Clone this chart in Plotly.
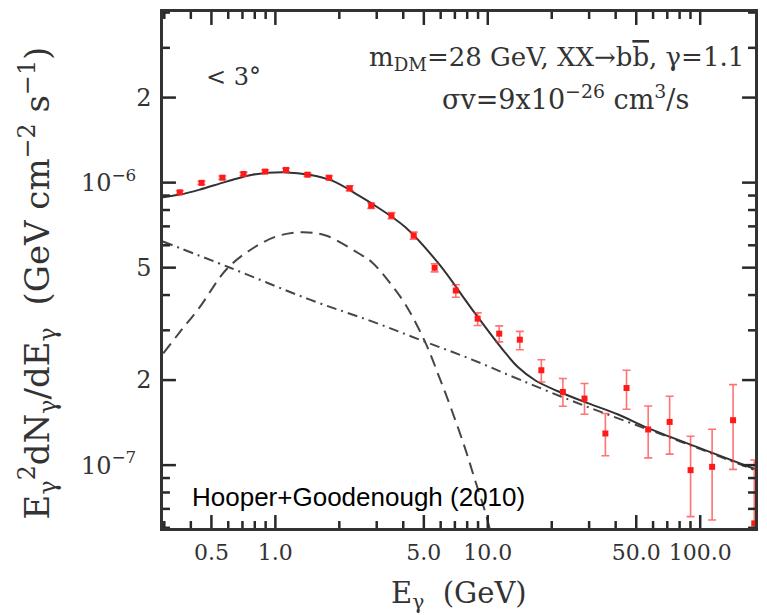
import plotly.graph_objects as go

# ---------------- data ----------------
E_data = [0.355, 0.449, 0.563, 0.708, 0.895, 1.122, 1.417, 1.790, 2.239, 2.826,
          3.52, 4.48, 5.62, 7.07, 8.96, 11.32, 14.15, 17.87, 22.57, 28.53,
          35.78, 45.0, 56.9, 71.8, 90.1, 113.8, 142.8, 179.7]
F_data = [9.24e-7, 9.98e-7, 1.041e-6, 1.073e-6, 1.094e-6, 1.109e-6, 1.067e-6, 1.041e-6, 9.55e-7, 8.29e-7,
          7.64e-7, 6.50e-7, 4.996e-7, 4.15e-7, 3.30e-7, 2.92e-7, 2.78e-7, 2.167e-7, 1.816e-7, 1.72e-7,
          1.294e-7, 1.875e-7, 1.337e-7, 1.422e-7, 9.60e-8, 9.86e-8, 1.442e-7, 6.22e-8]
F_hi = [9.36e-7, 1.011e-6, 1.055e-6, 1.087e-6, 1.109e-6, 1.124e-6, 1.082e-6, 1.056e-6, 9.75e-7, 8.47e-7,
        7.83e-7, 6.69e-7, 5.16e-7, 4.35e-7, 3.46e-7, 3.11e-7, 2.975e-7, 2.36e-7, 2.025e-7, 1.944e-7,
        1.523e-7, 2.167e-7, 1.62e-7, 1.753e-7, 1.266e-7, 1.34e-7, 1.928e-7, 1.042e-7]
F_lo = [9.12e-7, 9.85e-7, 1.027e-6, 1.059e-6, 1.079e-6, 1.094e-6, 1.052e-6, 1.026e-6, 9.35e-7, 8.11e-7,
        7.45e-7, 6.31e-7, 4.83e-7, 3.93e-7, 3.12e-7, 2.73e-7, 2.56e-7, 1.97e-7, 1.616e-7, 1.514e-7,
        1.079e-7, 1.577e-7, 1.061e-7, 1.094e-7, 6.57e-8, 6.39e-8, 9.66e-8, 3.0e-8]

# total model (solid)
E_total = [0.2956, 0.355, 0.4406, 0.5875, 0.7803, 1.126, 1.443, 1.849, 2.474, 2.847, 4.095,
           5.864, 8.37, 12.04, 13.9, 16.69, 21.39, 28.53, 40.85, 56.47, 100.3, 180.9]
F_total = [8.87e-7, 9.07e-7, 9.447e-7, 1.008e-6, 1.067e-6, 1.087e-6, 1.067e-6, 1.016e-6, 9.0e-7, 8.43e-7, 6.95e-7,
           5.173e-7, 3.587e-7, 2.507e-7, 2.219e-7, 1.997e-7, 1.826e-7, 1.674e-7, 1.514e-7, 1.354e-7, 1.146e-7, 9.68e-8]

# dark matter component (dashed)
E_dm = [0.2966, 0.355, 0.4406, 0.5875, 0.7555, 1.008, 1.338, 1.728, 2.474, 2.847, 3.42, 4.095,
        5.079, 5.864, 6.767, 7.82, 8.71, 9.87, 10.5]
F_dm = [2.487e-7, 2.958e-7, 3.625e-7, 4.927e-7, 5.75e-7, 6.444e-7, 6.674e-7, 6.497e-7, 5.611e-7, 5.229e-7, 4.468e-7, 3.706e-7,
        2.72e-7, 2.08e-7, 1.564e-7, 1.146e-7, 8.85e-8, 6.57e-8, 5.43e-8]

# background (dash-dot)
E_bg = [0.2956, 0.6088, 1.443, 2.847, 4.882, 8.370, 14.35, 28.53, 56.47, 100.3, 180.9]
F_bg = [6.187e-7, 5.006e-7, 3.86e-7, 3.227e-7, 2.764e-7, 2.369e-7, 1.997e-7, 1.622e-7, 1.340e-7, 1.139e-7, 9.60e-8]

x_major = [0.5, 1.0, 5.0, 10.0, 50.0, 100.0]
x_major_text = ["0.5", "1.0", "5.0", "10.0", "50.0", "100.0"]
x_minor = [0.3, 0.4, 0.6, 0.7, 0.8, 0.9, 2, 3, 4, 6, 7, 8, 9, 20, 30, 40, 60, 70, 80, 90]
y_major = [1e-7, 2e-7, 5e-7, 1e-6, 2e-6]
y_major_text = ["10<sup>\u22127</sup>\u00a0\u00a0", "2", "5", "10<sup>\u22126</sup>\u00a0\u00a0", "2"]
y_minor = [6e-8, 7e-8, 8e-8, 9e-8, 3e-7, 4e-7, 6e-7, 7e-7, 8e-7, 9e-7, 3e-6, 4e-6]

# ---------------- figure ----------------
LINE = "rgb(50,50,50)"
TXT = "#333333"
SERIF = "DejaVu Serif"
X_RANGE = [-0.529, 2.258]
Y_RANGE = [-7.2226, -5.396]
W, H = 767, 615
M = dict(l=163, r=9, t=11, b=87)
PW = W - M["l"] - M["r"]
PH = H - M["t"] - M["b"]
MAJ_LEN, MIN_LEN = 13, 7

fig = go.Figure()

fig.add_trace(go.Scatter(x=E_bg, y=F_bg, mode="lines", line_shape="spline",
                         line=dict(color="rgb(70,70,70)", width=2, dash="10px,5px,2px,5px"),
                         showlegend=False, hoverinfo="skip"))
fig.add_trace(go.Scatter(x=E_dm, y=F_dm, mode="lines", line_shape="spline",
                         line=dict(color="rgb(70,70,70)", width=2, dash="12px,7px"),
                         showlegend=False, hoverinfo="skip"))
fig.add_trace(go.Scatter(x=E_total, y=F_total, mode="lines", line_shape="spline",
                         line=dict(color=LINE, width=2),
                         showlegend=False, hoverinfo="skip"))

err_plus = [h - f for h, f in zip(F_hi, F_data)]
err_minus = [f - l for f, l in zip(F_data, F_lo)]
fig.add_trace(go.Scatter(
    x=E_data, y=F_data, mode="markers",
    marker=dict(symbol="square", size=6, color="#ff1a1a"),
    error_y=dict(type="data", symmetric=False, array=err_plus, arrayminus=err_minus,
                 color="rgba(255,40,40,0.65)", thickness=1.6, width=4),
    showlegend=False))

# inside tick marks on all four sides, built from the tick value lists and the axis ranges
dx = X_RANGE[1] - X_RANGE[0]
dy = Y_RANGE[1] - Y_RANGE[0]
tx, ty = [], []
for vals, L in [(x_major, MAJ_LEN), (x_minor, MIN_LEN)]:
    for v in vals:
        tx += [v, v, None, v, v, None]
        ty += [10 ** Y_RANGE[0], 10 ** (Y_RANGE[0] + dy * L / PH), None,
               10 ** Y_RANGE[1], 10 ** (Y_RANGE[1] - dy * L / PH), None]
for vals, L in [(y_major, MAJ_LEN), (y_minor, MIN_LEN)]:
    for v in vals:
        tx += [10 ** X_RANGE[0], 10 ** (X_RANGE[0] + dx * L / PW), None,
               10 ** X_RANGE[1], 10 ** (X_RANGE[1] - dx * L / PW), None]
        ty += [v, v, None, v, v, None]
fig.add_trace(go.Scatter(x=tx, y=ty, mode="lines", line=dict(color="rgb(40,40,40)", width=2.5),
                         connectgaps=False, showlegend=False, hoverinfo="skip"))

fig.update_layout(
    xaxis=dict(
        type="log", range=X_RANGE, showline=True, linecolor=LINE, linewidth=2.5, mirror=True,
        ticks="", tickmode="array", tickvals=x_major, ticktext=x_major_text,
        showgrid=False, zeroline=False, ticklabelstandoff=3,
        tickfont=dict(family=SERIF, size=22, color=TXT),
    ),
    yaxis=dict(
        type="log", range=Y_RANGE, showline=True, linecolor=LINE, linewidth=2.5, mirror=True,
        ticks="", tickmode="array", tickvals=y_major, ticktext=y_major_text,
        showgrid=False, zeroline=False, ticklabelstandoff=4,
        tickfont=dict(family=SERIF, size=24, color=TXT),
    ),
)

annotations = [
    dict(text="E<sub>\u03b3</sub><sup>2</sup>dN<sub>\u03b3</sub>/dE<sub>\u03b3</sub>\u00a0\u00a0(GeV cm<sup>\u22122</sup> s<sup>\u22121</sup>)",
         x=-0.212, y=0.475, xref="paper", yref="paper", textangle=-90,
         xanchor="center", yanchor="middle", showarrow=False,
         font=dict(family=SERIF, size=34, color=TXT)),
    dict(text="E<sub>\u03b3</sub>\u00a0\u00a0(GeV)",
         x=0.5, y=-0.13, xref="paper", yref="paper",
         xanchor="center", yanchor="middle", showarrow=False,
         font=dict(family=SERIF, size=29, color=TXT)),
    dict(text="< 3\u00b0", x=0.07, y=0.875, xref="paper", yref="paper",
         xanchor="left", yanchor="middle", showarrow=False,
         font=dict(family=SERIF, size=24, color=TXT)),
    dict(text="m<sub>DM</sub>=28 GeV, XX\u2192b<span style='text-decoration:overline'>b</span>, \u03b3=1.1",
         x=0.985, y=0.91, xref="paper", yref="paper",
         xanchor="right", yanchor="middle", showarrow=False,
         font=dict(family=SERIF, size=26, color=TXT)),
    dict(text="\u03c3v=9x10<sup>\u221226</sup> cm<sup>3</sup>/s",
         x=0.68, y=0.835, xref="paper", yref="paper",
         xanchor="center", yanchor="middle", showarrow=False,
         font=dict(family=SERIF, size=27, color=TXT)),
    dict(text="Hooper+Goodenough (2010)", x=0.046, y=0.06, xref="paper", yref="paper",
         xanchor="left", yanchor="middle", showarrow=False,
         font=dict(family="Liberation Sans", size=26, color="black")),
]

fig.update_layout(
    width=W, height=H,
    margin=M,
    plot_bgcolor="white", paper_bgcolor="white",
    annotations=annotations,
    showlegend=False,
)

fig.write_html("out.html")
